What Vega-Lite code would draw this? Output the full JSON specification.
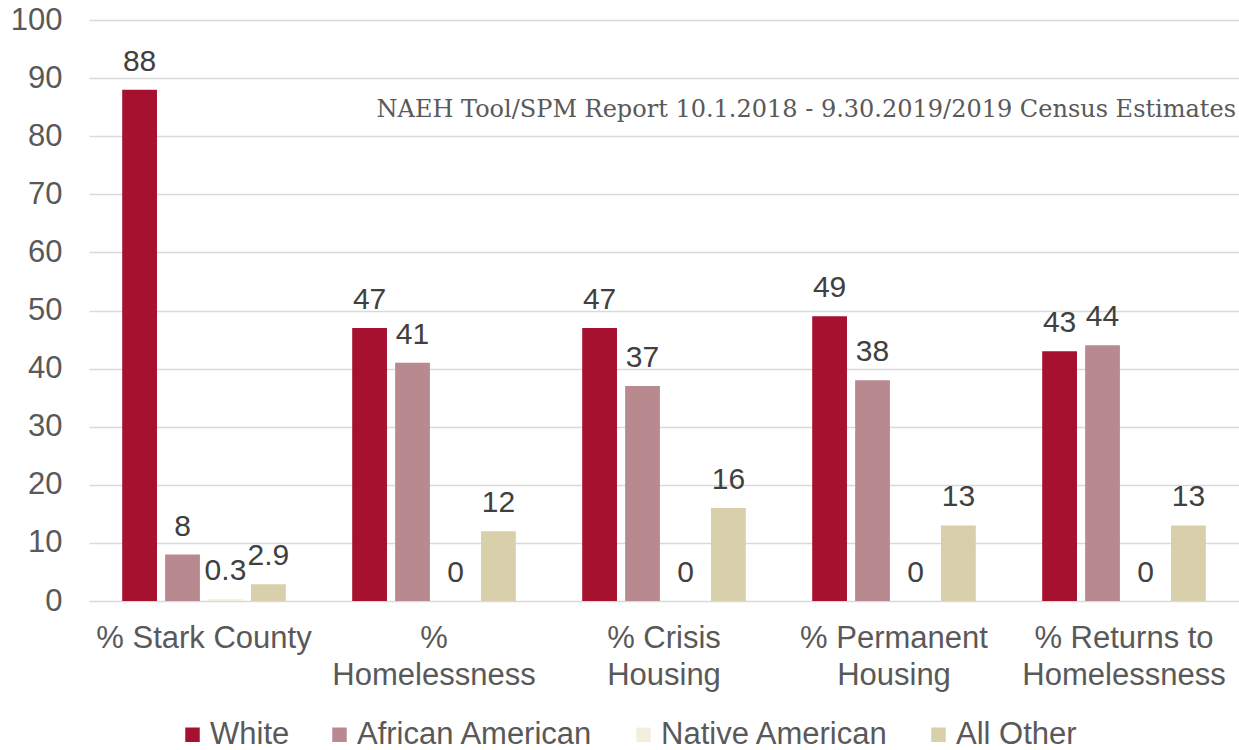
{
  "$schema": "https://vega.github.io/schema/vega-lite/v6.json",
  "width": 1150,
  "height": 581,
  "autosize": {"type": "none"},
  "padding": {"left": 89, "top": 20, "right": 0, "bottom": 149},
  "background": "white",
  "title": {
    "text": "NAEH Tool/SPM Report 10.1.2018 - 9.30.2019/2019 Census Estimates",
    "anchor": "end",
    "orient": "top",
    "frame": "group",
    "offset": -118,
    "dx": -3,
    "font": "DejaVu Serif",
    "fontSize": 24,
    "fontWeight": "normal",
    "color": "#595959"
  },
  "config": {
    "view": {"stroke": null},
    "font": "Liberation Sans"
  },
  "data": {
    "values": [
      {"category": "% Stark County", "race": "White", "value": 88},
      {"category": "% Stark County", "race": "African American", "value": 8},
      {"category": "% Stark County", "race": "Native American", "value": 0.3},
      {"category": "% Stark County", "race": "All Other", "value": 2.9},
      {"category": "%|Homelessness", "race": "White", "value": 47},
      {"category": "%|Homelessness", "race": "African American", "value": 41},
      {"category": "%|Homelessness", "race": "Native American", "value": 0},
      {"category": "%|Homelessness", "race": "All Other", "value": 12},
      {"category": "% Crisis|Housing", "race": "White", "value": 47},
      {"category": "% Crisis|Housing", "race": "African American", "value": 37},
      {"category": "% Crisis|Housing", "race": "Native American", "value": 0},
      {"category": "% Crisis|Housing", "race": "All Other", "value": 16},
      {"category": "% Permanent|Housing", "race": "White", "value": 49},
      {"category": "% Permanent|Housing", "race": "African American", "value": 38},
      {"category": "% Permanent|Housing", "race": "Native American", "value": 0},
      {"category": "% Permanent|Housing", "race": "All Other", "value": 13},
      {"category": "% Returns to|Homelessness", "race": "White", "value": 43},
      {"category": "% Returns to|Homelessness", "race": "African American", "value": 44},
      {"category": "% Returns to|Homelessness", "race": "Native American", "value": 0},
      {"category": "% Returns to|Homelessness", "race": "All Other", "value": 13}
    ]
  },
  "encoding": {
    "x": {
      "field": "category",
      "type": "nominal",
      "sort": ["% Stark County", "%|Homelessness", "% Crisis|Housing", "% Permanent|Housing", "% Returns to|Homelessness"],
      "scale": {"paddingInner": 0.27, "paddingOuter": 0.135},
      "axis": {
        "title": null,
        "labelAngle": 0,
        "labelExpr": "split(datum.label, '|')",
        "labelFont": "Liberation Sans",
        "labelFontSize": 31,
        "labelColor": "#595959",
        "labelLineHeight": 37,
        "labelPadding": 22,
        "labelLimit": 0,
        "ticks": false,
        "domain": false,
        "grid": false
      }
    },
    "xOffset": {
      "field": "race",
      "type": "nominal",
      "sort": ["White", "African American", "Native American", "All Other"],
      "scale": {"paddingInner": 0.19, "paddingOuter": 0.05}
    },
    "y": {
      "field": "value",
      "type": "quantitative",
      "scale": {"domain": [0, 100]},
      "axis": {
        "title": null,
        "values": [0, 10, 20, 30, 40, 50, 60, 70, 80, 90, 100],
        "labelFont": "Liberation Sans",
        "labelFontSize": 31,
        "labelColor": "#595959",
        "labelPadding": 27,
        "ticks": false,
        "domain": false,
        "gridColor": "#d9d9d9",
        "gridWidth": 1.5
      }
    }
  },
  "layer": [
    {
      "mark": {"type": "bar"},
      "encoding": {
        "color": {
          "field": "race",
          "type": "nominal",
          "sort": ["White", "African American", "Native American", "All Other"],
          "scale": {
            "domain": ["White", "African American", "Native American", "All Other"],
            "range": ["#a6112f", "#b98990", "#f2efdf", "#d8cfab"]
          },
          "legend": {
            "title": null,
            "orient": "none",
            "legendX": 88,
            "legendY": 699,
            "direction": "horizontal",
            "symbolType": "square",
            "symbolSize": 210,
            "symbolStrokeWidth": 0,
            "labelFont": "Liberation Sans",
            "labelFontSize": 31,
            "labelColor": "#595959",
            "labelOffset": 2,
            "labelLimit": 0,
            "columnPadding": 34
          }
        }
      }
    },
    {
      "mark": {
        "type": "text",
        "baseline": "alphabetic",
        "align": "center",
        "dy": -19,
        "font": "Liberation Sans",
        "fontSize": 30,
        "color": "#404040"
      },
      "encoding": {
        "text": {"field": "value", "type": "quantitative"}
      }
    }
  ]
}
